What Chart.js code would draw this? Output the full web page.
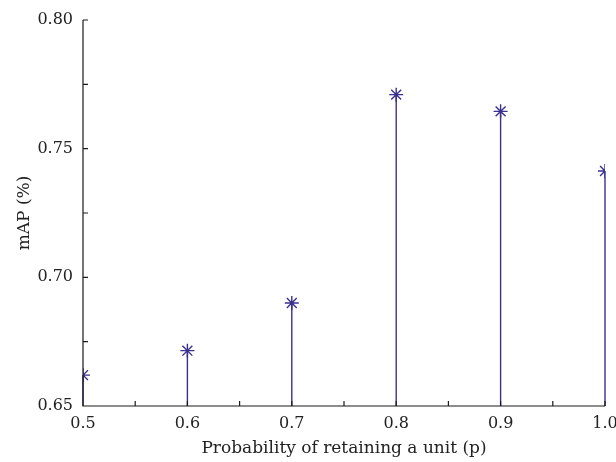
<!DOCTYPE html>
<html>
<head>
<meta charset="utf-8">
<script src="https://cdn.jsdelivr.net/npm/chart.js@4"></script>
<style>
  html, body { margin: 0; padding: 0; background: #fff; }
  canvas { display: block; }
</style>
</head>
<body>
<canvas id="chart" width="616" height="462"></canvas>
<script>
// retention probability p and the mAP
const probs = [0.5, 0.6, 0.7, 0.8, 0.9, 1.0];
const mapValues = [0.662, 0.6715, 0.690, 0.771, 0.7645, 0.7413];
const xTickLabels = ['0.5', '0.6', '0.7', '0.8', '0.9', '1.0'];
const yTickLabels = ['0.65', '0.70', '0.75', '0.80'];

const STEM = '#3a318f';
const FONT = "'DejaVu Serif', 'Liberation Serif', serif";

// only label the major ticks, the rest stay as minor marks
const labelFor = (v, list, dec) => {
    const k = Math.pow(10, dec);
    if (Math.abs(v * k - Math.round(v * k)) > 1e-6) return '';
    const s = Number(v).toFixed(dec);
    return list.includes(s) ? s : '';
};

// stems from the marker down to the x axis
const stems = {
    id: 'stems',
    beforeDatasetsDraw(chart) {
        const ctx = chart.ctx;
        const area = chart.chartArea;
        const meta = chart.getDatasetMeta(0);
        ctx.save();
        ctx.strokeStyle = STEM;
        ctx.lineWidth = 1.4;
        meta.data.forEach(pt => {
            ctx.beginPath();
            ctx.moveTo(pt.x, pt.y);
            ctx.lineTo(pt.x, area.bottom);
            ctx.stroke();
        });
        ctx.restore();
    }
};

// left/bottom axis lines with inward ticks
const axes = {
    id: 'axes',
    afterDraw(chart) {
        const ctx = chart.ctx;
        const a = chart.chartArea;
        const x = chart.scales.x, y = chart.scales.y;
        ctx.save();
        ctx.strokeStyle = '#1a1a1a';
        ctx.lineWidth = 1.2;
        ctx.beginPath();
        ctx.moveTo(a.left, a.top);
        ctx.lineTo(a.left, a.bottom);
        ctx.lineTo(a.right, a.bottom);
        x.ticks.forEach(t => {
            const px = x.getPixelForValue(t.value);
            ctx.moveTo(px, a.bottom);
            ctx.lineTo(px, a.bottom - 5);
        });
        y.ticks.forEach(t => {
            const py = y.getPixelForValue(t.value);
            ctx.moveTo(a.left, py);
            ctx.lineTo(a.left + 5, py);
        });
        ctx.stroke();
        ctx.restore();
    }
};

new Chart(document.getElementById('chart'), {
    type: 'scatter',
    data: {
        datasets: [{
            data: probs.map((p, i) => ({x: p, y: mapValues[i]})),
            pointStyle: 'star',
            pointRadius: 7,
            pointHoverRadius: 7,
            pointBorderWidth: 1.4,
            borderColor: STEM,
            backgroundColor: 'rgba(0,0,0,0)',
            clip: 0
        }]
    },
    options: {
        responsive: false,
        devicePixelRatio: 1,
        animation: false,
        events: [],
        layout: { padding: { top: 20, right: 11, left: 0, bottom: 0 } },
        plugins: { legend: { display: false }, tooltip: { enabled: false } },
        scales: {
            x: {
                type: 'linear',
                min: 0.5,
                max: 1.0,
                offset: false,
                grid: { display: false, drawTicks: false, tickLength: 0 },
                border: { display: false },
                ticks: {
                    stepSize: 0.05,
                    autoSkip: false,
                    maxRotation: 0,
                    padding: 8,
                    color: '#222',
                    font: { family: FONT, size: 16 },
                    callback: v => labelFor(v, xTickLabels, 1)
                },
                title: {
                    display: true,
                    text: 'Probability of retaining a unit (p)',
                    color: '#222',
                    font: { family: FONT, size: 17 },
                    padding: { top: 0, bottom: 3 }
                },
                afterFit(s) {
                    s.height = 56;
                    s.paddingLeft = 0;
                    s.paddingRight = 0;
                }
            },
            y: {
                type: 'linear',
                min: 0.65,
                max: 0.80,
                grid: { display: false, drawTicks: false, tickLength: 0 },
                border: { display: false },
                ticks: {
                    stepSize: 0.025,
                    autoSkip: false,
                    padding: 10,
                    color: '#222',
                    font: { family: FONT, size: 16 },
                    callback: v => labelFor(v, yTickLabels, 2)
                },
                title: {
                    display: true,
                    text: 'mAP (%)',
                    color: '#222',
                    font: { family: FONT, size: 17 },
                    padding: { top: 14, bottom: 0 }
                },
                afterFit(s) {
                    s.width = 83;
                    s.paddingTop = 0;
                    s.paddingBottom = 0;
                }
            }
        }
    },
    plugins: [stems, axes]
});
</script>
</body>
</html>
